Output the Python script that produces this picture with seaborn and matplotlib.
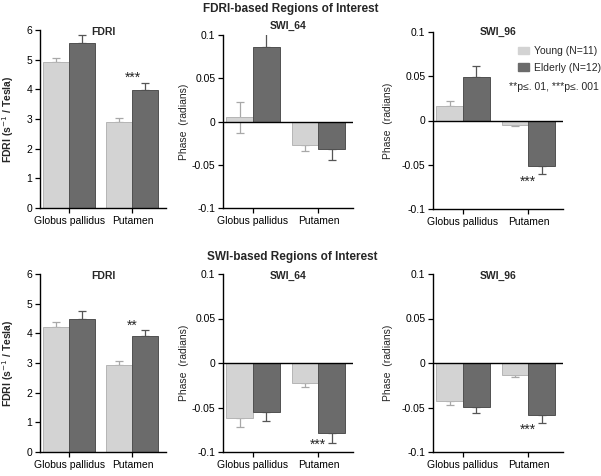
import numpy as np
import pandas as pd
import seaborn as sns
import matplotlib.pyplot as plt
from matplotlib.patches import Patch

# categories / groups
regions = ["Globus pallidus", "Putamen"]
groups = ["Young (N=11)", "Elderly (N=12)"]

# FDRI-based ROIs (top row): means and SEM
fdri_top_young = [4.91, 2.89]
fdri_top_young_err = [0.14, 0.14]
fdri_top_elderly = [5.55, 3.97]
fdri_top_elderly_err = [0.29, 0.23]

swi64_top_young = [0.005, -0.027]
swi64_top_young_err = [0.018, 0.0076]
swi64_top_elderly = [0.0865, -0.032]
swi64_top_elderly_err = [0.0195, 0.012]

swi96_top_young = [0.0165, -0.005]
swi96_top_young_err = [0.0052, 0.0017]
swi96_top_elderly = [0.049, -0.0517]
swi96_top_elderly_err = [0.013, 0.0085]

# SWI-based ROIs (bottom row)
fdri_bot_young = [4.21, 2.94]
fdri_bot_young_err = [0.18, 0.13]
fdri_bot_elderly = [4.50, 3.91]
fdri_bot_elderly_err = [0.25, 0.20]

swi64_bot_young = [-0.0623, -0.0224]
swi64_bot_young_err = [0.0097, 0.0046]
swi64_bot_elderly = [-0.0552, -0.079]
swi64_bot_elderly_err = [0.0098, 0.011]

swi96_bot_young = [-0.0428, -0.0134]
swi96_bot_young_err = [0.0048, 0.0026]
swi96_bot_elderly = [-0.0494, -0.0587]
swi96_bot_elderly_err = [0.0064, 0.0083]

# significance marks: (region index, label, y position)
stars_fdri_top = [(1, "***", 4.40)]
stars_swi64_top = []
stars_swi96_top = [(1, "***", -0.069)]
stars_fdri_bot = [(1, "**", 4.25)]
stars_swi64_bot = [(1, "***", -0.0915)]
stars_swi96_bot = [(1, "***", -0.0745)]

fdri_ticks = [0, 1, 2, 3, 4, 5, 6]
phase_ticks = [-0.1, -0.05, 0, 0.05, 0.1]

sns.set_style("ticks")
plt.rcParams['font.family'] = ['Liberation Sans', 'DejaVu Sans']
plt.rcParams['axes.unicode_minus'] = False

colors = ["#d3d3d3", "#6b6b6b"]
edges = ["#b5b5b5", "#505050"]
err_colors = ["#a8a8a8", "#555555"]

W, H = 601, 476
fig = plt.figure(figsize=(W / 100, H / 100), dpi=100)


def px_axes(left, right, top, bottom):
    return fig.add_axes([left / W, 1 - bottom / H, (right - left) / W, (bottom - top) / H])


def panel(ax, young, young_err, elderly, elderly_err, title, kind, stars, ylab_x, title_y=1.0):
    df = pd.DataFrame({
        "region": regions * 2,
        "group": [groups[0]] * 2 + [groups[1]] * 2,
        "value": list(young) + list(elderly),
    })
    sns.barplot(data=df, x="region", y="value", hue="group", hue_order=groups,
                palette=colors, width=0.82, errorbar=None, legend=False,
                linewidth=0.7, ax=ax, zorder=2)
    for k, cont in enumerate(ax.containers):
        for p in cont.patches:
            p.set_edgecolor(edges[k])
    # one-sided error bars (both sides if the bar is smaller than its error)
    for k, (vals, errs) in enumerate([(young, young_err), (elderly, elderly_err)]):
        xs = [p.get_x() + p.get_width() / 2 for p in ax.containers[k].patches]
        for x, v, e in zip(xs, vals, errs):
            if e > abs(v):
                yerr = [[e], [e]]
            elif v >= 0:
                yerr = [[0], [e]]
            else:
                yerr = [[e], [0]]
            ax.errorbar(x, v, yerr=yerr, fmt="none", ecolor=err_colors[k],
                        elinewidth=0.9, capsize=3, capthick=0.9, zorder=1)
    ax.set_xlim(-0.46, 1.53)
    if kind == "fdri":
        ax.set_ylim(0, 6)
        ax.set_yticks(fdri_ticks)
        ax.set_yticklabels([f"{t:g}" for t in fdri_ticks])
        ax.set_ylabel("FDRI (s$^{-1}$ / Tesla)", fontsize=7.5, fontweight="bold")
    else:
        ax.set_ylim(-0.1, 0.1)
        ax.set_yticks(phase_ticks)
        ax.set_yticklabels([f"{t:g}" for t in phase_ticks])
        ax.axhline(0, color="black", lw=1.0, zorder=3)
        ax.set_ylabel("Phase  (radians)", fontsize=7.5)
    ax.yaxis.set_label_coords(ylab_x, 0.5)
    ax.set_xlabel("")
    ax.tick_params(axis="both", labelsize=7.5, length=3.5, width=0.9, pad=2, colors="black")
    for s in ["left", "bottom"]:
        ax.spines[s].set_linewidth(1.0)
        ax.spines[s].set_color("black")
    sns.despine(ax=ax)
    ax.text(0.5, title_y, title, transform=ax.transAxes, ha="center", va="center",
            fontsize=7.5, fontweight="bold")
    for i, lab, y in stars:
        ax.text(i, y, lab, ha="center", va="center", fontsize=10)


# top row
ax1 = px_axes(40, 166, 30, 208)
ax2 = px_axes(223, 353, 35, 208)
ax3 = px_axes(433, 563, 32, 209)
# bottom row
ax4 = px_axes(40, 166, 274, 452)
ax5 = px_axes(223, 353, 274, 452)
ax6 = px_axes(433, 563, 274, 452)

panel(ax1, fdri_top_young, fdri_top_young_err, fdri_top_elderly, fdri_top_elderly_err,
      "FDRI", "fdri", stars_fdri_top, -0.19, 0.99)
panel(ax2, swi64_top_young, swi64_top_young_err, swi64_top_elderly, swi64_top_elderly_err,
      "SWI_64", "phase", stars_swi64_top, -0.26, 1.05)
panel(ax3, swi96_top_young, swi96_top_young_err, swi96_top_elderly, swi96_top_elderly_err,
      "SWI_96", "phase", stars_swi96_top, -0.31, 1.0)
panel(ax4, fdri_bot_young, fdri_bot_young_err, fdri_bot_elderly, fdri_bot_elderly_err,
      "FDRI", "fdri", stars_fdri_bot, -0.19, 0.99)
panel(ax5, swi64_bot_young, swi64_bot_young_err, swi64_bot_elderly, swi64_bot_elderly_err,
      "SWI_64", "phase", stars_swi64_bot, -0.26, 0.99)
panel(ax6, swi96_bot_young, swi96_bot_young_err, swi96_bot_elderly, swi96_bot_elderly_err,
      "SWI_96", "phase", stars_swi96_bot, -0.31, 0.99)

fig.text(291 / W, 1 - 9 / H, "FDRI-based Regions of Interest", ha="center", va="center",
         fontsize=8.5, fontweight="bold")
fig.text(292 / W, 1 - 257 / H, "SWI-based Regions of Interest", ha="center", va="center",
         fontsize=8.5, fontweight="bold")

handles = [Patch(facecolor=colors[k], edgecolor=colors[k]) for k in range(2)]
fig.legend(handles, groups, loc="upper left", bbox_to_anchor=(518 / W, 1 - 46 / H),
           frameon=False, fontsize=7.5, handlelength=1.05, handleheight=0.75,
           handletextpad=0.45, labelspacing=0.65, borderpad=0, borderaxespad=0)
fig.text(509 / W, 1 - 87 / H, "**p\u2264. 01, ***p\u2264. 001", ha="left", va="center",
         fontsize=7.5)

fig.savefig("out.png", dpi=100)
